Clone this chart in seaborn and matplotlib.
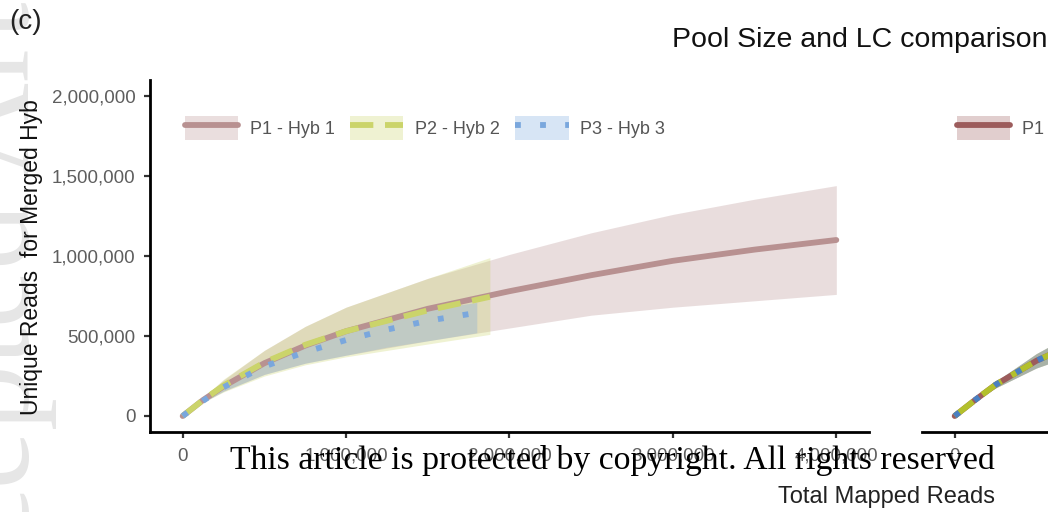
import pandas as pd
import matplotlib.pyplot as plt
import seaborn as sns
from matplotlib.patches import Patch
from matplotlib.lines import Line2D
from matplotlib.ticker import FuncFormatter

# values in millions of reads
p1_x = [0, 0.125, 0.25, 0.5, 0.75, 1.0, 1.5, 2.0, 2.5, 3.0, 3.5, 4.0]
p1_y = [0, 0.10, 0.185, 0.33, 0.44, 0.53, 0.67, 0.78, 0.88, 0.97, 1.04, 1.10]
p1_lo = [0, 0.085, 0.155, 0.26, 0.33, 0.38, 0.47, 0.55, 0.63, 0.68, 0.72, 0.76]
p1_hi = [0, 0.115, 0.225, 0.41, 0.56, 0.68, 0.86, 1.01, 1.145, 1.26, 1.355, 1.44]

p2_x = [0, 0.125, 0.25, 0.5, 0.75, 1.0, 1.5, 1.88]
p2_y = [0, 0.10, 0.19, 0.335, 0.445, 0.53, 0.66, 0.745]
p2_lo = [0, 0.085, 0.15, 0.25, 0.32, 0.37, 0.45, 0.51]
p2_hi = [0, 0.115, 0.23, 0.41, 0.56, 0.68, 0.86, 0.99]

p3_x = [0, 0.125, 0.25, 0.5, 0.75, 1.0, 1.25, 1.5, 1.8]
p3_y = [0, 0.095, 0.18, 0.31, 0.40, 0.475, 0.54, 0.595, 0.645]
p3_lo = [0, 0.085, 0.155, 0.26, 0.33, 0.38, 0.43, 0.47, 0.52]
p3_hi = [0, 0.10, 0.195, 0.34, 0.45, 0.53, 0.60, 0.665, 0.71]

# second panel (only its start is visible)
r_x = [0, 0.125, 0.25, 0.5, 0.75]
r_p1_y = [0, 0.10, 0.195, 0.345, 0.46]
r_p2_y = [0, 0.10, 0.195, 0.345, 0.46]
r_p3_y = [0, 0.10, 0.195, 0.345, 0.46]
r_lo = [0, 0.095, 0.175, 0.30, 0.39]
r_hi = [0, 0.105, 0.215, 0.39, 0.53]

labels = ['P1 - Hyb 1', 'P2 - Hyb 2', 'P3 - Hyb 3']
colors = ['#B89191', '#CBD46A', '#7AA7DD']
colors_r = ['#9C5C5C', '#B3C02C', '#4A7FC1']
styles = ['-', (0, (4, 2)), (0, (1, 3.3))]

x_ticks = [0, 1, 2, 3, 4]
y_ticks = [0, 0.5, 1.0, 1.5, 2.0]

sns.set_style('ticks')
plt.rcParams['font.family'] = ['Liberation Sans', 'DejaVu Sans']

fig = plt.figure(figsize=(10.48, 5.12), dpi=100)
ax = fig.add_axes([150 / 1048, 1 - 432 / 512, 719 / 1048, 352 / 512])
ax2 = fig.add_axes([922 / 1048, 1 - 432 / 512, 719 / 1048, 352 / 512])

LW = 4.2


def draw_panel(a, series, cols):
    for x, y, lo, hi, c in series:
        a.fill_between(x, lo, hi, color=c, alpha=0.3, lw=0)
    for (x, y, lo, hi, c), ls in zip(series, styles):
        df = pd.DataFrame({'x': x, 'y': y})
        sns.lineplot(data=df, x='x', y='y', ax=a, color=c, lw=LW,
                     linestyle=ls, errorbar=None, dash_capstyle='butt')
    handles = []
    for c, ls in zip(cols, styles):
        r, g, b = [int(cc, 16) / 255 for cc in (c[1:3], c[3:5], c[5:7])]
        band = (1 - 0.3 * (1 - r), 1 - 0.3 * (1 - g), 1 - 0.3 * (1 - b))
        handles.append((Patch(facecolor=band, edgecolor='none'),
                        Line2D([], [], color=c, lw=LW, linestyle=ls, dash_capstyle='butt')))
    a.legend(handles, labels, ncol=3, loc='center left',
             bbox_to_anchor=(35 / 719, (432 - 128) / 352), frameon=False,
             fontsize=13, labelcolor='#555555', handlelength=2.95,
             handleheight=1.6, handletextpad=0.65, columnspacing=0.85,
             borderpad=0, borderaxespad=0)


draw_panel(ax, [(p1_x, p1_y, p1_lo, p1_hi, colors[0]),
                (p2_x, p2_y, p2_lo, p2_hi, colors[1]),
                (p3_x, p3_y, p3_lo, p3_hi, colors[2])], colors)
draw_panel(ax2, [(r_x, r_p1_y, r_lo, r_hi, colors_r[0]),
                 (r_x, r_p2_y, r_lo, r_hi, colors_r[1]),
                 (r_x, r_p3_y, r_lo, r_hi, colors_r[2])], colors_r)

fmt = FuncFormatter(lambda v, p: f'{v * 1e6:,.0f}')
for a in (ax, ax2):
    a.set_xlim(-0.2, 4.2)
    a.set_ylim(-0.1, 2.1)
    a.set_xticks(x_ticks)
    a.set_yticks(y_ticks)
    a.xaxis.set_major_formatter(fmt)
    a.yaxis.set_major_formatter(fmt)
    a.set_xlabel('')
    a.set_ylabel('')
    for s in ('top', 'right'):
        a.spines[s].set_visible(False)
    a.spines['left'].set_linewidth(2)
    a.spines['bottom'].set_linewidth(2)
    a.spines['left'].set_color('black')
    a.spines['bottom'].set_color('black')
    a.tick_params(length=4.5, width=1.6, color='#333333', labelsize=13.5,
                  labelcolor='#5e5e5e')
    a.tick_params(axis='x', pad=7)
    a.tick_params(axis='y', pad=6)

ax2.spines['left'].set_visible(False)
ax2.tick_params(axis='y', left=False, labelleft=False)

fig.text(9 / 1048, 1 - 22 / 512, '(c)', fontsize=20, color='#222222',
         ha='left', va='center')
fig.text(672 / 1048, 1 - 40 / 512, 'Pool Size and LC comparison', fontsize=20.5,
         color='#111111', ha='left', va='center')
fig.text(32 / 1048, 1 - 257 / 512, 'Unique Reads  for Merged Hyb', fontsize=16.5,
         color='#111111', rotation=90, ha='center', va='center')
fig.text(778 / 1048, 1 - 497 / 512, 'Total Mapped Reads', fontsize=17,
         color='#222222', ha='left', va='center')

# journal watermarks
fig.text(-0.06, 0.5, 'Accepted Article', rotation=90, fontsize=95,
         color='#e6e6e6', family='Liberation Serif', ha='left', va='center',
         zorder=-1)
fig.text(230 / 1048, 1 - 469 / 512,
         'This article is protected by copyright. All rights reserved',
         fontsize=24.3, color='black', family='Liberation Serif',
         ha='left', va='baseline', zorder=10)

fig.savefig('out.png', dpi=100)
